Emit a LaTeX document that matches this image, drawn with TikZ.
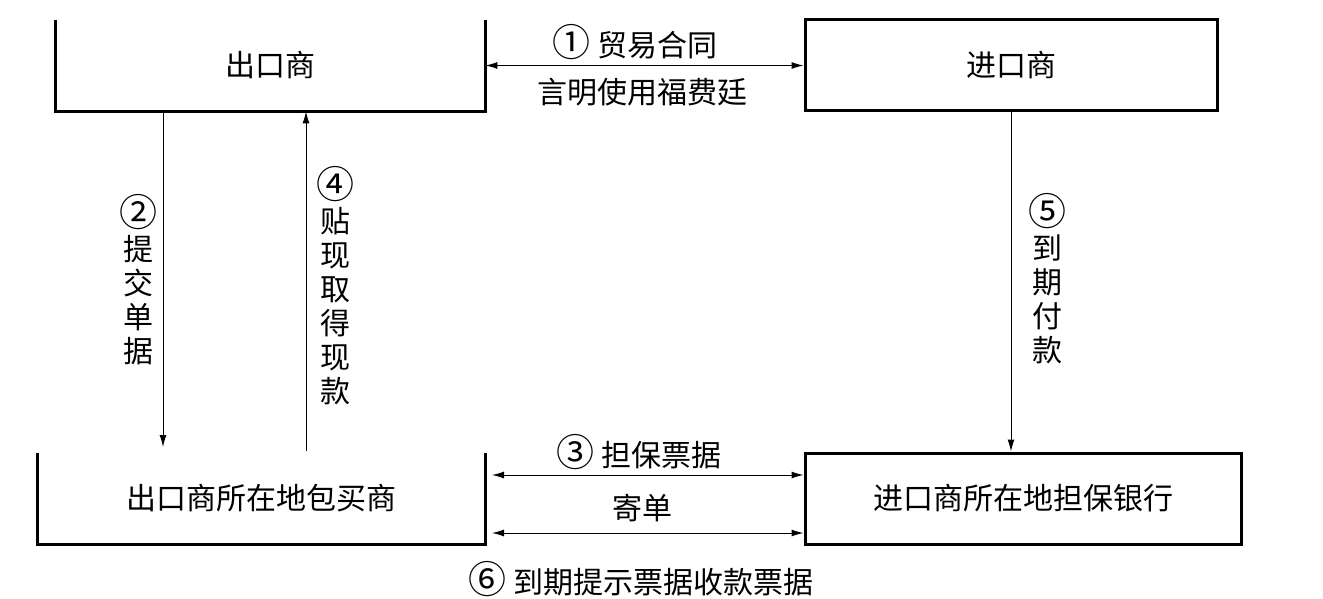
\documentclass[tikz,border=0pt]{standalone}
\usepackage{fontspec}
\usepackage{tikz}
\usetikzlibrary{arrows.meta,positioning}
\newfontfamily\cjk{Noto Sans CJK SC}
\newcommand{\stepno}[1]{{\fontsize{19}{16}\selectfont #1}}
\tikzset{
  party/.style={minimum height=45.5pt,inner sep=0pt},
  partybox/.style={party,draw,line width=1.5pt},
  flow/.style={line width=0.5pt,-{Latex[length=6pt,width=3.5pt]}},
  dflow/.style={line width=0.5pt,{Latex[length=6pt,width=3.5pt]}-{Latex[length=6pt,width=3.5pt]}},
  vlabel/.style={align=center,font=\cjk\fontsize{15}{17}\selectfont}
}

\begin{document}
\begin{tikzpicture}[every node/.style={font=\cjk\fontsize{15}{18}\selectfont},x=0.5pt,y=-0.5pt]
  \useasboundingbox (0,0) rectangle (1323,599);
  % Parties
  \node[party,minimum width=214.5pt] (exp) at (270.5,65.5) {出口商};
  \node[partybox,minimum width=206pt] (imp) at (1011,65.5) {进口商};
  \node[party,minimum width=223.5pt] (buy) at (261.5,498.5) {出口商所在地包买商};
  \node[partybox,minimum width=218pt] (bank) at (1023,498.5) {进口商所在地担保银行};
  % Open-top frames of the left parties
  \draw[line width=1.5pt] (exp.north west) -- (exp.south west) -- (exp.south east) -- (exp.north east);
  \draw[line width=1.5pt] (buy.north west) -- (buy.south west) -- (buy.south east) -- (buy.north east);
  % Free ends of the connectors
  \coordinate (c2) at (163,447);
  \coordinate (c4) at (306,451);
  \coordinate (c3) at (492,475);
  \coordinate (c6) at (492,533);
  % Connectors
  \draw[dflow] (exp.east) -- (exp.east -| imp.west);
  \draw[flow] (exp.south -| c2) -- (c2);
  \draw[flow] (c4) -- (c4 |- exp.south);
  \draw[flow] (imp.south) -- (imp.south |- bank.north);
  \draw[dflow] (c3) -- (c3 -| bank.west);
  \draw[dflow] (c6) -- (c6 -| bank.west);
  % Labels
  \node (l1) at (635,42) {\stepno{①} 贸易合同};
  \node (l1b) at (642,92) {言明使用福费廷};
  \node[vlabel] (l2) at (138,280) {\stepno{②}\\提\\交\\单\\据};
  \node[vlabel] (l4) at (335,286) {\stepno{④}\\贴\\现\\取\\得\\现\\款};
  \node[vlabel] (l5) at (1047,279) {\stepno{⑤}\\到\\期\\付\\款};
  \node (l3) at (639,452) {\stepno{③} 担保票据};
  \node (l3b) at (642,508) {寄单};
  \node (l6) at (641,579) {\stepno{⑥} 到期提示票据收款票据};
\end{tikzpicture}
\end{document}
